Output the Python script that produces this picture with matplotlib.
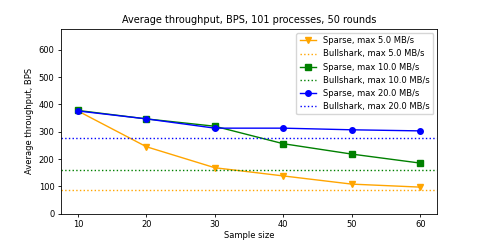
import matplotlib
matplotlib.use("Agg")
import matplotlib.pyplot as plt

sample_sizes = [10, 20, 30, 40, 50, 60]
sparse_5 = [376, 245, 168, 138, 108, 97]
sparse_10 = [378, 347, 320, 256, 218, 185]
sparse_20 = [376, 347, 313, 313, 307, 303]
bullshark_5 = 87
bullshark_10 = 158
bullshark_20 = 277
colors = ["orange", "green", "blue"]
markers = ["v", "s", "o"]
bandwidths = ["5.0", "10.0", "20.0"]

fig = plt.figure(figsize=(4.86, 2.4), dpi=100)
ax = fig.add_subplot(111)
fig.subplots_adjust(left=0.125, right=0.9, bottom=0.11, top=0.88)

for vals, bs, c, m, bw in zip([sparse_5, sparse_10, sparse_20],
                              [bullshark_5, bullshark_10, bullshark_20],
                              colors, markers, bandwidths):
    ax.plot(sample_sizes, vals, color=c, marker=m, markersize=4, linewidth=1,
            label=f"Sparse, max {bw} MB/s")
    ax.axhline(bs, color=c, linestyle=":", linewidth=1,
               label=f"Bullshark, max {bw} MB/s")

ax.set_ylim(0, 677)
ax.set_yticks([0, 100, 200, 300, 400, 500, 600])
ax.set_xticks(sample_sizes)
ax.tick_params(labelsize=6, length=2.5, width=0.6, pad=2)
for s in ax.spines.values():
    s.set_linewidth(0.6)
ax.set_xlabel("Sample size", fontsize=6, labelpad=1.5)
ax.set_ylabel("Average throughput, BPS", fontsize=6, labelpad=3)
ax.set_title("Average throughput, BPS, 101 processes, 50 rounds", fontsize=7, pad=4)
ax.legend(loc="upper right", fontsize=6)

fig.savefig("out.png", dpi=100)
